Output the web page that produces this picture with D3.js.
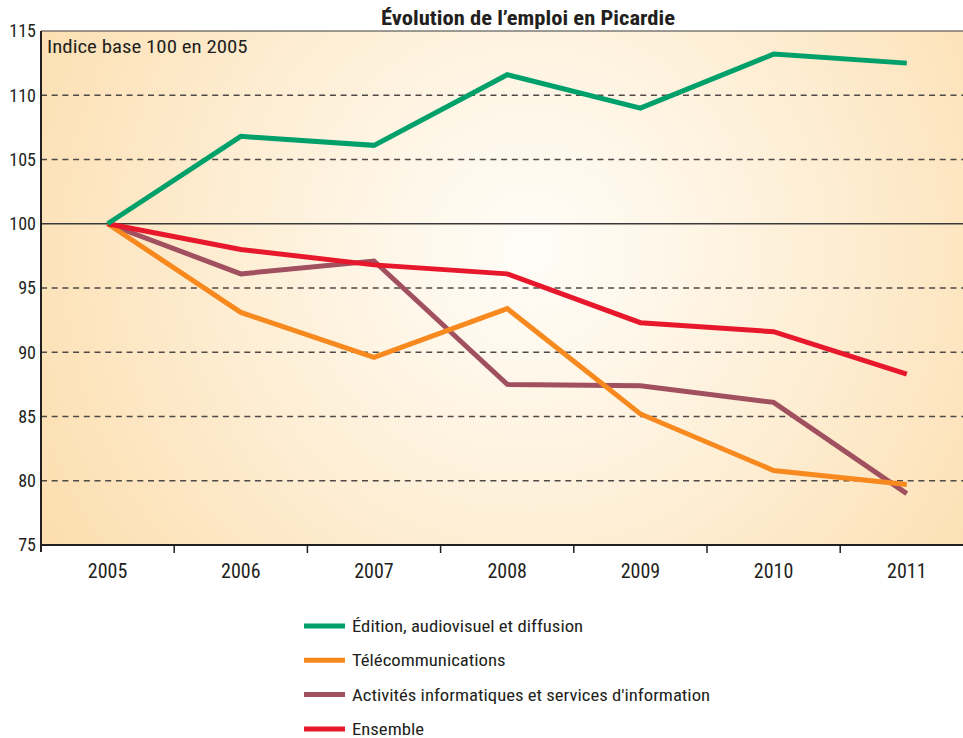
<!DOCTYPE html>
<html><head><meta charset="utf-8">
<script src="https://cdn.jsdelivr.net/npm/d3@7/dist/d3.min.js"></script>
<style>
html,body{margin:0;padding:0;background:#fff;}
svg text{font-family:"Liberation Sans Narrow","Roboto Condensed","Roboto",sans-serif;fill:#231f20;}
</style></head>
<body>
<svg id="c" width="963" height="738"></svg>
<script>
const years = ["2005","2006","2007","2008","2009","2010","2011"];
const seriesNames = ["Édition, audiovisuel et diffusion","Télécommunications","Activités informatiques et services d'information","Ensemble"];
const edition = [100, 106.8, 106.1, 111.6, 109.0, 113.2, 112.5];
const telecom = [100, 93.1, 89.6, 93.4, 85.2, 80.8, 79.7];
const informatique = [100, 96.1, 97.1, 87.5, 87.4, 86.1, 79.0];
const ensemble = [100, 98.0, 96.8, 96.1, 92.3, 91.6, 88.3];
const yTicks = [75, 80, 85, 90, 95, 100, 105, 110, 115];
const colors = ["#00a06a", "#f7891f", "#a1505f", "#e8182c"];
const title = "Évolution de l’emploi en Picardie";
const note = "Indice base 100 en 2005";

const svg = d3.select("#c");
const pLeft = 41, pTop = 31, pBottom = 545, pRight = 963;
const bandW = 133.2;
const x = d3.scaleBand().domain(years).range([pLeft, pLeft + bandW * years.length]);
const y = d3.scaleLinear().domain([75, 115]).range([pBottom, pTop]);

const defs = svg.append("defs");
const g = defs.append("radialGradient").attr("id", "bg").attr("gradientUnits", "userSpaceOnUse")
  .attr("cx", 530).attr("cy", 250).attr("r", 600);
g.append("stop").attr("offset", 0).attr("stop-color", "#fffdf8");
g.append("stop").attr("offset", 0.35).attr("stop-color", "#fef3e0");
g.append("stop").attr("offset", 1).attr("stop-color", "#fcdcaa");

svg.append("rect").attr("x", pLeft).attr("y", pTop).attr("width", pRight - pLeft).attr("height", pBottom - pTop).attr("fill", "url(#bg)");

// grid
svg.append("g").selectAll("line").data(yTicks.filter(t => t !== 75 && t !== 115)).join("line")
  .attr("x1", pLeft).attr("x2", pRight).attr("y1", d => y(d)).attr("y2", d => y(d))
  .attr("stroke", d => d === 100 ? "#3a3a3a" : "#4f4a47")
  .attr("stroke-width", d => d === 100 ? 1.3 : 1.4)
  .attr("stroke-dasharray", d => d === 100 ? null : "6,4.7");

// top border
svg.append("line").attr("x1", pLeft).attr("x2", pRight).attr("y1", pTop).attr("y2", pTop).attr("stroke", "#3a3a3a").attr("stroke-width", 1.2);

// helper: horizontally stretched text
function stext(sel, px, py, str, size, sx, anchor, weight) {
  const t = sel.append("g").attr("transform", `translate(${px},${py}) scale(${sx},1)`)
    .append("text").attr("x", 0).attr("y", 0).attr("font-size", size)
    .attr("text-anchor", anchor || "start").text(str);
  if (weight) t.attr("font-weight", weight);
  return t;
}

// y axis labels
svg.append("g").selectAll("text").data(yTicks).join("text")
  .attr("x", 36).attr("y", d => y(d)).attr("dy", "0.36em").attr("text-anchor", "end")
  .attr("font-size", 18).text(d => d);

// axes lines
svg.append("line").attr("x1", pLeft).attr("x2", pLeft).attr("y1", pTop).attr("y2", pBottom + 7).attr("stroke", "#231f20").attr("stroke-width", 2);
svg.append("line").attr("x1", pLeft).attr("x2", pRight).attr("y1", pBottom).attr("y2", pBottom).attr("stroke", "#231f20").attr("stroke-width", 2);
svg.append("g").selectAll("line").data(years.slice(1)).join("line")
  .attr("x1", d => x(d)).attr("x2", d => x(d)).attr("y1", pBottom).attr("y2", pBottom + 8)
  .attr("stroke", "#231f20").attr("stroke-width", 1.5);
svg.append("g").selectAll("text").data(years).join("text")
  .attr("x", d => x(d) + x.bandwidth() / 2).attr("y", 578).attr("text-anchor", "middle")
  .attr("font-size", 20).text(d => d);

// title & note
stext(svg, 528, 25, title, 20, 1.13, "middle", "bold");
stext(svg, 47, 53, note, 18, 1.16, "start");

// lines
const allSeries = [edition, telecom, informatique, ensemble];
const line = d3.line().x((d, i) => x(years[i]) + x.bandwidth() / 2).y(d => y(d));
const drawOrder = [2, 1, 3, 0];
svg.append("g").selectAll("path").data(drawOrder).join("path")
  .attr("d", k => line(allSeries[k])).attr("fill", "none")
  .attr("stroke", k => colors[k]).attr("stroke-width", 5).attr("stroke-linejoin", "miter");

// legend
const lg = svg.append("g").selectAll("g").data(seriesNames).join("g")
  .attr("transform", (d, i) => `translate(0,${626 + i * 34.3})`);
lg.append("line").attr("x1", 304).attr("x2", 345).attr("y1", 0).attr("y2", 0)
  .attr("stroke", (d, i) => colors[i]).attr("stroke-width", 5);
lg.each(function(d) { stext(d3.select(this), 352, 6, d, 17, 1.1, "start"); });
</script>
</body></html>
